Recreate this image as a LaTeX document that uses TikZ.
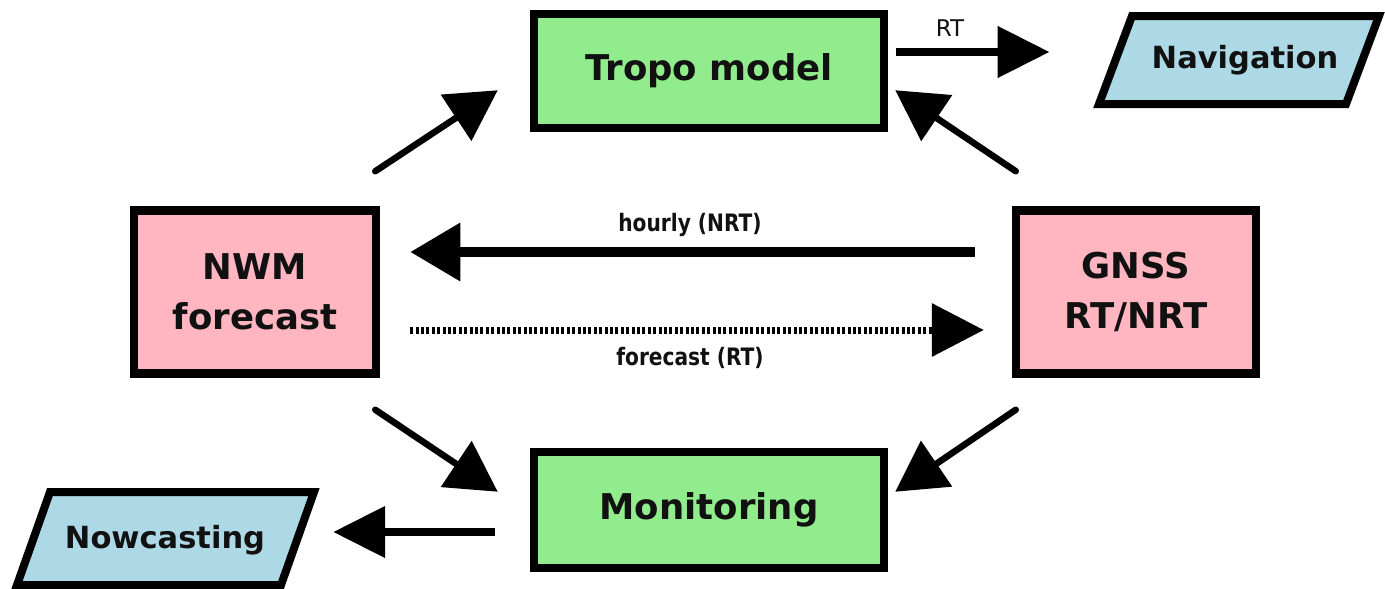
\documentclass[tikz,border=0pt]{standalone}
\usepackage{fontspec}
\setmainfont{DejaVu Sans}
\newfontfamily\condfont{DejaVu Sans}[FakeStretch=0.84]
\usetikzlibrary{arrows.meta,calc}
\definecolor{boxgreen}{RGB}{144,236,140}
\definecolor{boxpink}{RGB}{255,182,193}
\definecolor{boxblue}{RGB}{173,216,230}
\definecolor{ink}{RGB}{17,17,17}
\begin{document}
\begin{tikzpicture}[x=1pt,y=-1pt,
  box/.style={draw=black, line width=8.5pt, text=ink, align=center, inner sep=0pt,
    font=\fontsize{35.5}{50}\selectfont\bfseries},
  para/.style={draw=black, line width=8pt, fill=boxblue, line join=miter},
  paratext/.style={text=ink, inner sep=0pt, font=\fontsize{30.5}{36}\selectfont\bfseries},
  lbl/.style={text=ink, inner sep=0pt, font=\condfont\fontsize{24}{28}\selectfont\bfseries},
  rtlbl/.style={text=ink, inner sep=0pt, font=\fontsize{23}{28}\selectfont},
  diag/.style={line width=6.5pt, line cap=round, -{Triangle[length=50pt,width=54pt]}},
  thick/.style={line width=10pt, -{Triangle[length=50pt,width=56pt]}},
  dots/.style={line width=7pt, dash pattern=on 3pt off 2.4pt, -{Triangle[length=52pt,width=52pt]}},
  mid/.style={line width=8pt, -{Triangle[length=52pt,width=50pt]}}
]
\useasboundingbox (0,0) rectangle (1385,589);
\fill[white] (0,0) rectangle (1385,589);

% boxes
\node[box, fill=boxgreen, minimum width=350pt, minimum height=114pt] (tropo) at (709,71) {Tropo model};
\node[box, fill=boxgreen, minimum width=350pt, minimum height=116pt] (mon) at (709,510) {Monitoring};
\node[box, fill=boxpink, minimum width=242pt, minimum height=163pt] (nwm) at (255,292) {NWM\\forecast};
\node[box, fill=boxpink, minimum width=240pt, minimum height=163pt] (gnss) at (1136,292) {GNSS\\RT/NRT};

% parallelograms
\draw[para] (1132,16) -- (1379,16) -- (1346,104) -- (1099,104) -- cycle;
\node[paratext] (nav) at (1245,60) {Navigation};
\draw[para] (50,492) -- (314,492) -- (281,585) -- (17,585) -- cycle;
\node[paratext] (now) at (165,540) {Nowcasting};

% connectors
\draw[diag] ($(nwm.north east)+(-5,-35)$) -- ($(tropo.south west)+(-32,-42)$);
\draw[diag] ($(gnss.north west)+(4,-35)$) -- ($(tropo.south east)+(7,-42)$);
\draw[diag] ($(nwm.south east)+(-5,32)$) -- ($(mon.north west)+(-32,44)$);
\draw[diag] ($(gnss.south west)+(4,32)$) -- ($(mon.north east)+(7,44)$);

\draw[thick] ($(gnss.west)+(-37,-40)$) -- ($(nwm.east)+(30,-40)$);
\draw[dots] ($(nwm.east)+(30,38)$) -- ($(gnss.west)+(-28,38)$);
\draw[mid] ($(tropo.east)+(8,-19)$) -- ($(nav.west)+(-102,-8)$);
\draw[mid] ($(mon.west)+(-35,22)$) -- ($(now.east)+(68,-8)$);

% labels
\node[lbl] (hl) at (690,225) {hourly (NRT)};
\node[lbl] (fl) at (690,358) {forecast (RT)};
\node[rtlbl] (rt) at (950,28) {RT};
\end{tikzpicture}
\end{document}
